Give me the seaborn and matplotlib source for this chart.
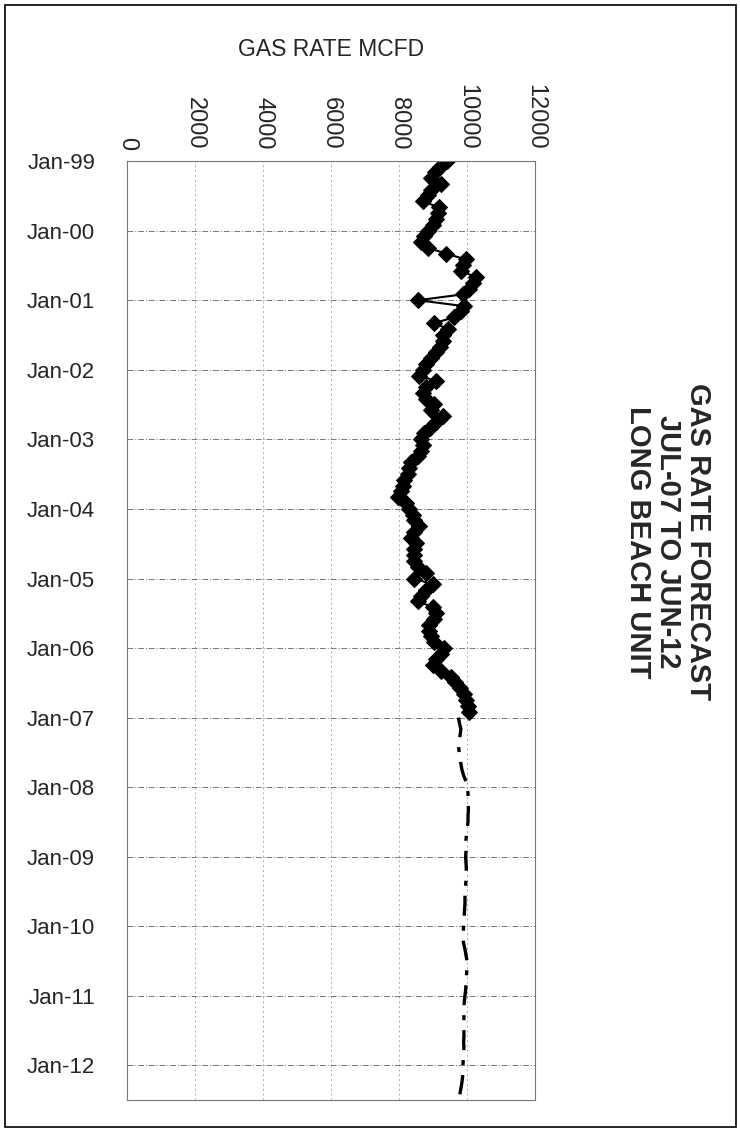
import pandas as pd
import matplotlib.pyplot as plt
import matplotlib.dates as mdates
from matplotlib.patches import Rectangle
import seaborn as sns

# Monthly gas rate (MCFD), Jan-99 .. Dec-06 (history)
hist_rate = [
    9400, 9200, 9050, 8950, 9240, 8950, 8850, 8700, 9180, 9150, 9080, 9000,   # 1999
    8850, 8750, 8650, 8850, 9380, 9970, 9880, 9820, 10260, 10170, 10050, 9880,  # 2000
    8560, 9910, 9820, 9620, 9030, 9440, 9300, 9280, 9200, 9100, 8950, 8800,   # 2001
    8700, 8590, 9090, 8800, 8700, 8790, 9030, 8940, 9290, 9100, 8900, 8750,   # 2002
    8650, 8700, 8650, 8560, 8350, 8290, 8260, 8150, 8120, 8060, 7970, 8200,   # 2003
    8290, 8410, 8440, 8590, 8440, 8350, 8500, 8440, 8440, 8450, 8560, 8790,   # 2004
    8440, 9000, 8790, 8650, 8560, 9000, 9090, 9030, 8880, 8880, 8950, 9030,   # 2005
    9320, 9230, 9100, 9000, 9230, 9530, 9650, 9800, 9900, 9970, 10030, 10050,  # 2006
]

# Forecast Jan-07 .. Jun-12
fcst_rate = [
    9750, 9780, 9820, 9800, 9760, 9750, 9770, 9790, 9820, 9850, 9900, 9970,    # 2007
    10000, 10030, 10030, 10040, 10040, 10030, 10030, 10010, 9990, 9970, 9970, 9970,  # 2008
    9960, 9970, 9980, 9970, 9970, 9960, 9950, 9940, 9940, 9930, 9920, 9910,    # 2009
    9900, 9890, 9880, 9900, 9940, 9970, 10000, 10000, 9990, 9980, 9970, 9960,  # 2010
    9940, 9920, 9910, 9910, 9910, 9910, 9910, 9910, 9900, 9910, 9900, 9890,    # 2011
    9880, 9880, 9870, 9850, 9820, 9790,                                        # 2012
]

hist = pd.DataFrame({'date': pd.date_range('1999-01-01', periods=len(hist_rate), freq='MS'),
                     'rate': hist_rate})
fcst = pd.DataFrame({'date': pd.date_range('2007-01-01', periods=len(fcst_rate), freq='MS'),
                     'rate': fcst_rate})

x_ticks = [0, 2000, 4000, 6000, 8000, 10000, 12000]
year_ticks = pd.date_range('1999-01-01', '2012-01-01', freq='YS')

sns.set_style('white')
plt.rcParams['font.family'] = ['Liberation Sans', 'DejaVu Sans']

fig = plt.figure(figsize=(7.4, 11.36), dpi=100)
ax = fig.add_axes([127 / 740, 1 - 1100 / 1136, 408 / 740, 939 / 1136])

sns.lineplot(data=hist, x='rate', y='date', sort=False, estimator=None, ax=ax,
             color='black', linewidth=1.5, marker='D', markersize=8.5,
             markeredgecolor='black', markerfacecolor='black')
sns.lineplot(data=fcst, x='rate', y='date', sort=False, estimator=None, ax=ax,
             color='black', linewidth=2.4, linestyle=(0, (6, 3, 1.5, 3)))

ax.set_xlim(0, 12000)
ax.set_ylim(pd.Timestamp('2012-07-01'), pd.Timestamp('1999-01-01'))

ax.xaxis.tick_top()
ax.xaxis.set_label_position('top')
ax.set_xticks(x_ticks)
ax.set_xticklabels([str(v) for v in x_ticks], rotation=270, fontsize=17, va='bottom')
ax.set_xlabel('GAS RATE MCFD', fontsize=16.5, labelpad=20)

ax.set_yticks(year_ticks)
ax.yaxis.set_major_formatter(mdates.DateFormatter('%b-%y'))
ax.tick_params(axis='y', labelsize=16, pad=18, length=5, color='#666666')
ax.tick_params(axis='x', pad=8, length=0)
ax.set_ylabel('')

ax.grid(True, axis='y', color='#777777', linestyle=(0, (6, 2, 1, 2)), linewidth=0.7)
ax.grid(True, axis='x', color='#aaaaaa', linestyle=(0, (2, 3)), linewidth=0.7)
for s in ax.spines.values():
    s.set_color('#777777')
    s.set_linewidth(0.8)
    s.set_linestyle((0, (1, 1)))

fig.text(668 / 740, 1 - 542 / 1136,
         'GAS RATE FORECAST\nJUL-07 TO JUN-12\nLONG BEACH UNIT',
         rotation=270, ha='center', va='center', fontsize=21, fontweight='bold',
         multialignment='center', linespacing=1.08)

# outer frame of the chart
fig.patches.append(Rectangle((5 / 740, 9 / 1136), 731 / 740, 1122 / 1136,
                             transform=fig.transFigure, fill=False,
                             edgecolor='black', linewidth=1.2))

fig.savefig('out.png', dpi=100)
